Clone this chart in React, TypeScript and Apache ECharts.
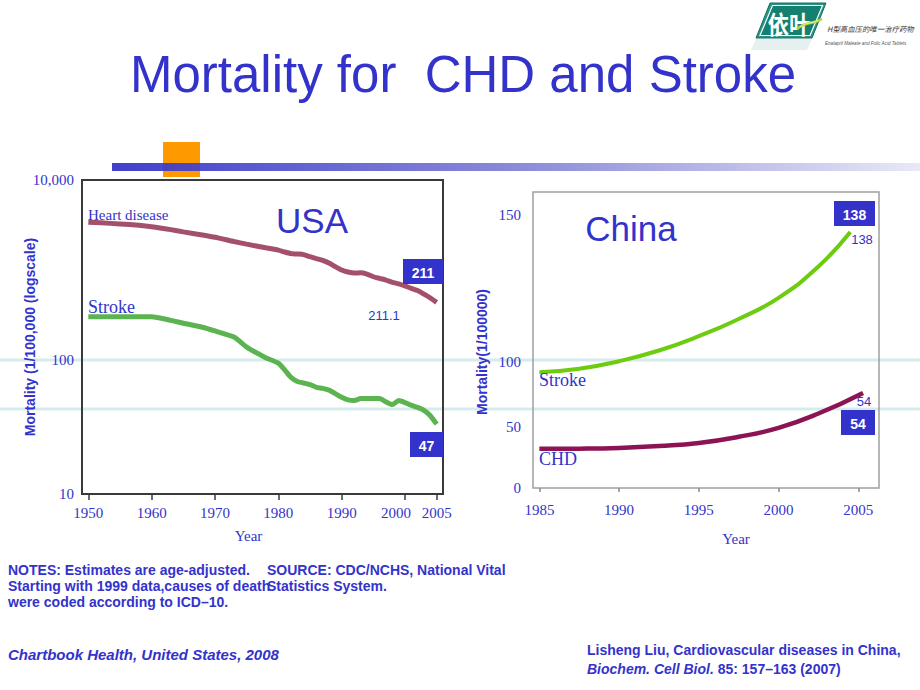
import React, { useEffect, useRef } from "react";
import * as echarts from "echarts";

// ---------- USA (log scale) ----------
const usaYears = [1950, 1952, 1955, 1958, 1960, 1963, 1965, 1968, 1970, 1973, 1975, 1978, 1980, 1981, 1982, 1983, 1984, 1985, 1986, 1987, 1988, 1989, 1990, 1991, 1992, 1993, 1994, 1995, 1996, 1997, 1998, 1999, 2000, 2001, 2002, 2003, 2004, 2005];
const usaHeart = [582, 578, 570, 560, 550, 530, 515, 495, 481, 455, 440, 420, 408, 398, 390, 388, 385, 375, 366, 358, 346, 330, 316, 308, 304, 305, 300, 290, 284, 278, 270, 265, 258, 250, 243, 232, 221, 209];
const usaStroke = [174, 174, 174, 174, 174, 166, 160, 152, 145, 134, 118, 103, 96, 88, 80, 76, 74.5, 73, 70.5, 69.5, 68, 65, 62, 60, 59.5, 61, 61, 61, 61, 58.5, 56.5, 59.5, 58, 56, 54.5, 52.5, 49, 44];
const usaXTicks = [1950, 1960, 1970, 1980, 1990, 2000, 2005];
const usaYTickValues = [18, 100, 1000];
const usaYTickLabels = ["10", "100", "10,000"];

// ---------- China (linear) ----------
const chinaYears = [1985, 1987.5, 1990, 1992.5, 1995, 1997.5, 2000, 2002.5, 2004.5];
const chinaStroke = [64.6, 66.5, 70.4, 76, 83.5, 92.5, 103.6, 120, 138];
const chinaChdYears = [1985, 1987.5, 1990, 1992.5, 1995, 1997.5, 2000, 2002.5, 2005.3];
const chinaChd = [24.5, 24.6, 25, 26, 27.6, 30.8, 35.5, 43, 53.8];
const chinaXTicks = [1985, 1990, 1995, 2000, 2005];
const chinaYTickValues = [4, 36, 70, 147];
const chinaYTickLabels = ["0", "50", "100", "150"];

const BLUE = "#3333cc";
const SERIF = "Liberation Serif";
const SANS = "Liberation Sans";
const CJK = "Noto Sans CJK SC";

const nearestLabel = (vals: number[], labels: string[]) => (v: number) => {
  let best = 0;
  for (let i = 0; i < vals.length; i++) {
    if (Math.abs(vals[i] - v) < Math.abs(vals[best] - v)) best = i;
  }
  return labels[best];
};

const txt = (x: number, y: number, text: string, o: any = {}) => ({
  type: "text",
  x,
  y,
  z: o.z ?? 20,
  rotation: o.rotation || 0,
  scaleX: o.scaleX || 1,
  style: {
    text,
    fill: o.fill || BLUE,
    fontFamily: o.family || SANS,
    fontSize: o.size || 14,
    fontWeight: o.weight || "normal",
    fontStyle: o.style || "normal",
    align: o.align || "left",
    verticalAlign: o.va || "middle",
    rich: o.rich,
  },
});

const box = (x: number, y: number, w: number, h: number, label: string) => [
  { type: "rect", z: 20, shape: { x, y, width: w, height: h }, style: { fill: BLUE } },
  txt(x + w / 2, y + h / 2 + 1, label, { fill: "#ffffff", weight: "bold", size: 14, align: "center", z: 21 }),
];

export default function App() {
  const ref = useRef<HTMLDivElement>(null);

  useEffect(() => {
    if (!ref.current) return;
    const chart = echarts.init(ref.current, null, { renderer: "svg" });

    const axisLabelSerif = { fontFamily: SERIF, fontSize: 15, color: BLUE };
    const yearFmt = (v: number) => String(v);
    // the 2000 label sits a little left of its tick in the original slide
    const usaYearFmt = (v: number) => (v === 2000 ? "{s|2000}" : String(v));

    const option: any = {
      animation: false,
      backgroundColor: "#ffffff",
      grid: [
        { left: 82, top: 180, width: 361, height: 314, show: true, borderColor: "#3a3a3a", borderWidth: 2, backgroundColor: "transparent" },
        { left: 533, top: 192, width: 346, height: 296, show: true, borderColor: "#a0a0a0", borderWidth: 1.5, backgroundColor: "transparent" },
      ],
      xAxis: [
        {
          type: "value",
          gridIndex: 0,
          min: 1949,
          max: 2006,
          axisLine: { show: false },
          splitLine: { show: false },
          axisTick: { show: true, customValues: usaXTicks, length: 6, lineStyle: { color: "#3a3a3a", width: 1.5 } },
          axisLabel: {
            ...axisLabelSerif,
            customValues: usaXTicks,
            margin: 11,
            formatter: usaYearFmt,
            interval: 0,
            hideOverlap: false,
            rich: { s: { fontFamily: SERIF, fontSize: 15, color: BLUE, padding: [0, 18, 0, 0] } },
          },
          name: "Year",
          nameLocation: "middle",
          nameGap: 34,
          nameTextStyle: { fontFamily: SERIF, fontSize: 15, color: BLUE, padding: [0, 28, 0, 0] },
        },
        {
          type: "value",
          gridIndex: 1,
          min: 1984.6,
          max: 2006.3,
          axisLine: { show: false },
          splitLine: { show: false },
          axisTick: { show: true, customValues: chinaXTicks, length: 4, lineStyle: { color: "#8a8a8a", width: 1.5 } },
          axisLabel: { ...axisLabelSerif, customValues: chinaXTicks, margin: 14, formatter: yearFmt, interval: 0, hideOverlap: false },
          name: "Year",
          nameLocation: "middle",
          nameGap: 43,
          nameTextStyle: { fontFamily: SERIF, fontSize: 15, color: BLUE, padding: [0, 0, 0, 60] },
        },
      ],
      yAxis: [
        {
          type: "log",
          logBase: 10,
          gridIndex: 0,
          min: usaYTickValues[0],
          max: usaYTickValues[usaYTickValues.length - 1],
          axisLine: { show: false },
          axisTick: { show: false },
          splitLine: { show: false },
          axisLabel: { ...axisLabelSerif, margin: 8, formatter: nearestLabel(usaYTickValues, usaYTickLabels) },
          name: "Mortality (1/100,000 (logscale)",
          nameLocation: "middle",
          nameRotate: 90,
          nameGap: 45,
          nameMoveOverlap: false,
          nameTextStyle: { fontFamily: SANS, fontSize: 14, fontWeight: "bold", color: BLUE },
        },
        {
          type: "value",
          gridIndex: 1,
          min: 4,
          max: 159,
          axisLine: { show: false },
          axisTick: { show: false },
          splitLine: { show: false },
          axisLabel: { ...axisLabelSerif, margin: 12, customValues: chinaYTickValues, formatter: nearestLabel(chinaYTickValues, chinaYTickLabels) },
          name: "Mortality(1/100000)",
          nameLocation: "middle",
          nameRotate: 90,
          nameGap: 44,
          nameTextStyle: { fontFamily: SANS, fontSize: 14, fontWeight: "bold", color: BLUE, padding: [0, 24, 0, 0] },
        },
      ],
      series: [
        {
          name: "Heart disease",
          type: "line",
          xAxisIndex: 0,
          yAxisIndex: 0,
          symbol: "none",
          smooth: 0.2,
          data: usaYears.map((y, i) => [y, usaHeart[i]]),
          lineStyle: { color: "#a4506c", width: 5 },
          z: 5,
        },
        {
          name: "Stroke (USA)",
          type: "line",
          xAxisIndex: 0,
          yAxisIndex: 0,
          symbol: "none",
          smooth: 0.2,
          data: usaYears.map((y, i) => [y, usaStroke[i]]),
          lineStyle: { color: "#5cb451", width: 5 },
          z: 5,
        },
        {
          name: "Stroke (China)",
          type: "line",
          xAxisIndex: 1,
          yAxisIndex: 1,
          symbol: "none",
          smooth: true,
          data: chinaYears.map((y, i) => [y, chinaStroke[i]]),
          lineStyle: { color: "#6dcc0f", width: 4 },
          z: 5,
        },
        {
          name: "CHD (China)",
          type: "line",
          xAxisIndex: 1,
          yAxisIndex: 1,
          symbol: "none",
          smooth: true,
          data: chinaChdYears.map((y, i) => [y, chinaChd[i]]),
          lineStyle: { color: "#8c1455", width: 4.5 },
          z: 5,
        },
      ],
      graphic: [
        // slide guide lines (behind everything)
        { type: "line", z: -5, shape: { x1: 0, y1: 360, x2: 920, y2: 360 }, style: { stroke: "#d6ebeb", lineWidth: 3 } },
        { type: "line", z: -5, shape: { x1: 0, y1: 409, x2: 920, y2: 409 }, style: { stroke: "#d6ebeb", lineWidth: 3 } },
        // title decorations
        { type: "rect", z: 1, shape: { x: 163, y: 142, width: 37, height: 35 }, style: { fill: "#ff9900" } },
        {
          type: "rect",
          z: 3,
          shape: { x: 112, y: 163, width: 808, height: 8 },
          style: {
            fill: new echarts.graphic.LinearGradient(0, 0, 1, 0, [
              { offset: 0, color: "#3030c8" },
              { offset: 0.5, color: "#8080d6" },
              { offset: 1, color: "#e6e6f6" },
            ]),
            opacity: 0.92,
          },
        },
        txt(463, 74, "Mortality for  CHD and Stroke", { size: 51, align: "center" }),
        // logo
        { type: "polygon", z: 2, shape: { points: [[756, 39], [812, 39], [807, 50], [751, 50]] }, style: { fill: "#e6f0ee" } },
        { type: "polygon", z: 3, shape: { points: [[770, 3], [826, 3], [812, 38], [756, 38]] }, style: { fill: "#2a9585", stroke: "#0e6e61", lineWidth: 1 } },
        { type: "polygon", z: 4, shape: { points: [[772.5, 5.5], [822.5, 5.5], [810, 35.5], [760, 35.5]] }, style: { fill: "#15806f", stroke: "#ffffff", lineWidth: 1.2 } },
        txt(789, 23, "依叶", { fill: "#ffffff", size: 25, weight: "bold", family: CJK, align: "center", scaleX: 0.85, z: 6 }),
        { type: "bezierCurve", z: 7, shape: { x1: 797, y1: 29, cpx1: 805, cpy1: 21, cpx2: 812, cpy2: 25, x2: 822, y2: 19 }, style: { stroke: "#b6d433", lineWidth: 2.5, fill: "none" } },
        { type: "bezierCurve", z: 8, shape: { x1: 800, y1: 27, cpx1: 806, cpy1: 22, cpx2: 811, cpy2: 24, x2: 818, y2: 20.5 }, style: { stroke: "#f2f7d0", lineWidth: 0.8, fill: "none" } },
        txt(827, 28, "H型高血压的唯一治疗药物", { fill: "#3a3a3a", size: 7.4, style: "italic", family: CJK }),
        txt(825, 43, "Enalapril Maleate and Folic Acid Tablets", { fill: "#555555", size: 4.6, style: "italic" }),
        // USA annotations
        txt(312, 220, "USA", { size: 35, align: "center" }),
        txt(88, 215, "Heart disease", { family: SERIF, size: 15 }),
        txt(88, 307, "Stroke", { family: SERIF, size: 18 }),
        txt(384, 315, "211.1", { size: 13, align: "center" }),
        ...box(403, 259, 40, 25, "211"),
        ...box(410, 432, 33, 25, "47"),
        // China annotations
        txt(631, 228, "China", { size: 35, align: "center" }),
        txt(539, 380, "Stroke", { family: SERIF, size: 18 }),
        txt(539, 459, "CHD", { family: SERIF, size: 18 }),
        txt(862, 239, "138", { size: 13, align: "center" }),
        txt(864, 401, "54", { size: 13, align: "center" }),
        ...box(834, 201, 41, 25, "138"),
        ...box(841, 410, 34, 25, "54"),
        // notes
        txt(8, 570, "NOTES: Estimates are age-adjusted.", { weight: "bold", size: 14 }),
        txt(267, 570, "SOURCE: CDC/NCHS, National Vital", { weight: "bold", size: 14 }),
        txt(8, 586, "Starting with 1999 data,causes of death", { weight: "bold", size: 14 }),
        txt(267, 586, "Statistics System.", { weight: "bold", size: 14 }),
        txt(8, 602, "were coded according to ICD\u201310.", { weight: "bold", size: 14 }),
        txt(8, 654, "Chartbook Health, United States, 2008", { weight: "bold", size: 15, style: "italic" }),
        txt(587, 650, "Lisheng Liu, Cardiovascular diseases in China,", { weight: "bold", size: 14 }),
        txt(587, 669, "{i|Biochem. Cell Biol.} 85: 157\u2013163 (2007)", {
          weight: "bold",
          size: 14,
          rich: { i: { fontStyle: "italic", fontWeight: "bold", fontSize: 14, fontFamily: SANS, fill: BLUE } },
        }),
      ],
    };

    chart.setOption(option);
    return () => chart.dispose();
  }, []);

  return (
    <div
      ref={ref}
      style={{ position: "fixed", left: 0, top: 0, width: 920, height: 690, background: "#ffffff" }}
    />
  );
}
